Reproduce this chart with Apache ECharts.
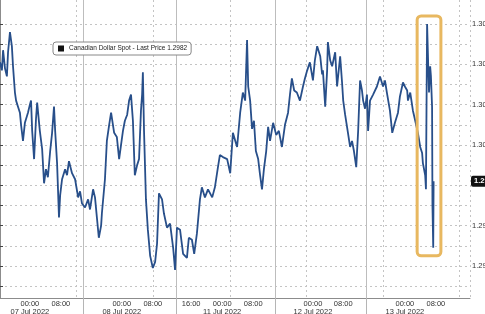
<!DOCTYPE html>
<html><head><meta charset="utf-8">
<script src="https://cdn.jsdelivr.net/npm/echarts@6/dist/echarts.min.js"></script>
<style>html,body{margin:0;padding:0;background:#fff}#c{width:485px;height:314px}</style>
</head><body><div id="c"></div>
<script>
// compressed trading hours since chart start
const hours = [0,0.5,0.8,1.3,1.8,2.1,2.6,3.1,3.4,3.9,4.2,4.7,5.2,5.5,6.0,6.5,7.3,7.8,8.1,8.4,8.9,9.4,9.7,10.4,11.0,11.5,12.0,12.5,13.1,13.6,14.1,14.4,14.9,15.4,15.7,16.2,17.0,17.5,18.0,18.8,19.6,20.4,20.9,21.4,22.2,23.0,23.5,24.3,24.8,25.3,25.8,26.4,26.6,27.4,27.9,28.5,29.0,29.8,30.5,31.1,31.6,32.1,32.6,33.2,33.7,34.2,34.7,35.2,35.8,36.3,36.8,37.1,37.3,37.6,38.1,38.6,39.2,39.9,40.5,41.0,41.5,42.3,42.8,43.6,44.4,45.2,45.7,46.2,47.0,47.8,48.8,49.3,50.1,50.7,51.4,52.2,52.7,53.5,54.3,55.4,56.1,56.9,57.4,58.2,59.3,60.1,60.8,61.9,62.7,63.4,64.0,64.5,64.8,65.3,65.8,66.3,66.8,67.4,67.9,68.4,68.9,69.5,70.0,70.5,71.3,72.1,72.8,73.6,74.4,75.2,75.7,76.2,76.8,77.5,78.3,79.1,79.6,80.2,80.9,81.7,82.2,82.8,83.6,84.1,84.3,84.9,85.4,85.6,86.2,86.7,87.5,88.0,88.8,89.3,89.6,90.1,90.6,91.4,91.9,92.4,93.0,93.5,94.0,94.5,94.8,95.3,95.8,96.1,96.6,97.4,98.4,99.2,100.0,100.5,101.0,101.8,102.4,103.1,103.9,104.4,105.2,105.7,106.3,106.5,107.1,107.8,108.4,109.1,109.7,110.2,110.4,111.0,111.2,111.5,111.8,112.0,112.3,112.5,112.8,112.9,113.1,113.2];
const prices = [1.3041,1.3037,1.3047,1.3038,1.3034,1.3046,1.3056,1.3049,1.3039,1.3026,1.3022,1.3019,1.3016,1.3010,1.3002,1.3011,1.3016,1.3020,1.3022,1.3007,1.2993,1.3013,1.3021,1.3007,1.2998,1.2981,1.2988,1.2984,1.2997,1.3006,1.3019,1.3007,1.2991,1.2964,1.2975,1.2983,1.2988,1.2985,1.2992,1.2986,1.2983,1.2974,1.2977,1.2971,1.2969,1.2973,1.2968,1.2978,1.2974,1.2964,1.2954,1.2960,1.2966,1.2983,1.3002,1.3010,1.3016,1.3006,1.3004,1.2993,1.3000,1.3007,1.3012,1.3015,1.3022,1.3025,1.3012,1.2985,1.2990,1.2993,1.3017,1.3025,1.3036,1.3007,1.2973,1.2958,1.2945,1.2939,1.2942,1.2951,1.2976,1.2973,1.2966,1.2959,1.2961,1.2949,1.2938,1.2959,1.2958,1.2946,1.2944,1.2954,1.2953,1.2946,1.2956,1.2973,1.2979,1.2974,1.2978,1.2974,1.2979,1.2989,1.2995,1.2994,1.2993,1.2986,1.3006,1.2999,1.3016,1.3026,1.3022,1.3052,1.3029,1.3022,1.3008,1.3012,1.2997,1.2993,1.2985,1.2978,1.2988,1.2997,1.3009,1.3002,1.3011,1.3005,1.3007,1.2999,1.3010,1.3016,1.3025,1.3033,1.3027,1.3026,1.3022,1.3029,1.3033,1.3037,1.3041,1.3032,1.3042,1.3049,1.3044,1.3035,1.3037,1.3019,1.3037,1.3051,1.3042,1.3039,1.3046,1.3029,1.3044,1.3031,1.3022,1.3015,1.3009,1.2999,1.3002,1.2997,1.2989,1.3007,1.3032,1.3027,1.3022,1.3018,1.3025,1.3007,1.3022,1.3025,1.3029,1.3034,1.3029,1.3032,1.3026,1.3017,1.3006,1.3011,1.3016,1.3024,1.3031,1.3029,1.3027,1.3022,1.3026,1.3017,1.3012,1.3006,1.2999,1.2996,1.2991,1.2985,1.2978,1.3060,1.3039,1.3026,1.3039,1.3034,1.3019,1.2970,1.2949,1.2982];

const seriesName = 'Canadian Dollar Spot - Last Price';
const lastPrice = 1.2982;

const priceTicks = [1.294, 1.296, 1.298, 1.300, 1.302, 1.304, 1.306];
const minorPriceTicks = [1.293, 1.295, 1.297, 1.299, 1.301, 1.303, 1.305];

const midnightTicks = [7.8, 31.8, 58.0, 81.7, 105.7];
const sessionBreaks = [21.7, 46.0, 71.8, 95.6];
const intradayTicks = [15.9, 24.0, 39.9, 49.9, 66.1, 89.6, 113.8];

const labelHours = [7.8, 15.9, 31.8, 39.9, 49.9, 58.0, 66.1, 81.7, 89.6, 105.7, 113.8];
const labelTimes = ['00:00','08:00','00:00','08:00','16:00','00:00','08:00','00:00','08:00','00:00','08:00'];
const labelDates = ['07 Jul 2022','','08 Jul 2022','','','11 Jul 2022','','12 Jul 2022','','13 Jul 2022',''];

const highlightHours = [108.9, 115.1];
const highlightPrices = [1.2945, 1.3064];

const xMax = 122.7;
const yMin = 1.29241, yMax = 1.30719;
const FONT = 'Liberation Sans, Arial, sans-serif';

const chart = echarts.init(document.getElementById('c'), null, {renderer: 'canvas'});

const option = {
  animation: false,
  backgroundColor: '#ffffff',
  textStyle: {fontFamily: FONT},
  grid: {left: 0, right: 15, top: 0, bottom: 16, containLabel: false, outerBoundsMode: 'none'},
  legend: {
    left: 53, top: 42,
    data: [seriesName],
    icon: 'rect', itemWidth: 6, itemHeight: 6, itemGap: 4,
    itemStyle: {color: '#111'},
    formatter: n => n + ' ' + lastPrice.toFixed(4),
    textStyle: {fontSize: 6.5, color: '#222', fontFamily: FONT},
    backgroundColor: '#fff', borderColor: '#888', borderWidth: 1, borderRadius: 3,
    padding: [3, 4, 3, 5]
  },
  xAxis: [
    {
      type: 'value', min: 0, max: xMax, position: 'bottom',
      axisLine: {show: true, onZero: false, lineStyle: {color: '#8c8c8c', width: 1}},
      axisTick: {show: true, customValues: sessionBreaks, length: 16, lineStyle: {color: '#b5b5b5'}},
      axisLabel: {
        show: true, customValues: labelHours, margin: 2, hideOverlap: false,
        showMinLabel: true, showMaxLabel: true,
        formatter: v => {
          const i = labelHours.findIndex(h => Math.abs(h - v) < 0.01);
          if (i < 0) return '';
          return labelDates[i] ? labelTimes[i] + '\n' + labelDates[i] : labelTimes[i];
        },
        fontSize: 7.5, lineHeight: 8, color: '#333', fontFamily: FONT
      },
      splitLine: {show: true, customValues: midnightTicks.concat(sessionBreaks), lineStyle: {color: '#bdbdbd', width: 1, type: 'solid'}}
    },
    {
      type: 'value', min: 0, max: xMax,
      axisLine: {show: false}, axisTick: {show: false}, axisLabel: {show: false},
      splitLine: {show: true, customValues: intradayTicks, lineStyle: {color: '#c4c4c4', width: 1, type: [2, 3]}}
    }
  ],
  yAxis: {
    type: 'value', position: 'right', min: yMin, max: yMax, scale: true,
    axisLine: {show: true, lineStyle: {color: '#8c8c8c', width: 1}},
    axisTick: {show: true, customValues: priceTicks.concat(minorPriceTicks), length: 3, lineStyle: {color: '#444'}},
    axisLabel: {
      show: true, customValues: priceTicks.filter(v => Math.abs(v - lastPrice) > 0.0005),
      formatter: v => v.toFixed(4), fontSize: 7.5, color: '#333', margin: 2, fontFamily: FONT
    },
    splitLine: {show: true, customValues: priceTicks, lineStyle: {color: '#c4c4c4', width: 1, type: [2, 3]}}
  },
  series: [{
    name: seriesName,
    type: 'line',
    xAxisIndex: 0,
    data: hours.map((h, i) => [h, prices[i]]),
    showSymbol: false,
    lineStyle: {color: '#284f8a', width: 1.8},
    itemStyle: {color: '#284f8a'},
    z: 5,
    markLine: {
      silent: true, symbol: 'none', precision: 4,
      lineStyle: {color: 'rgba(0,0,0,0)', width: 0, opacity: 1},
      emphasis: {disabled: true},
      data: [{yAxis: lastPrice}],
      label: {
        show: true, position: 'end', distance: 1, opacity: 1,
        formatter: () => lastPrice.toFixed(4),
        backgroundColor: '#111', color: '#fff', fontSize: 7.5, fontWeight: 'bold',
        padding: [2, 2, 1, 3], borderRadius: 2, fontFamily: FONT
      }
    }
  }]
};
chart.setOption(option);

const p1 = chart.convertToPixel({gridIndex: 0}, [highlightHours[0], highlightPrices[1]]);
const p2 = chart.convertToPixel({gridIndex: 0}, [highlightHours[1], highlightPrices[0]]);
chart.setOption({
  graphic: [{
    type: 'rect', z: 100, silent: true,
    shape: {x: p1[0], y: p1[1], width: p2[0] - p1[0], height: p2[1] - p1[1], r: 4},
    style: {fill: 'none', stroke: '#e8b860', lineWidth: 3}
  }]
});
</script>
</body></html>
